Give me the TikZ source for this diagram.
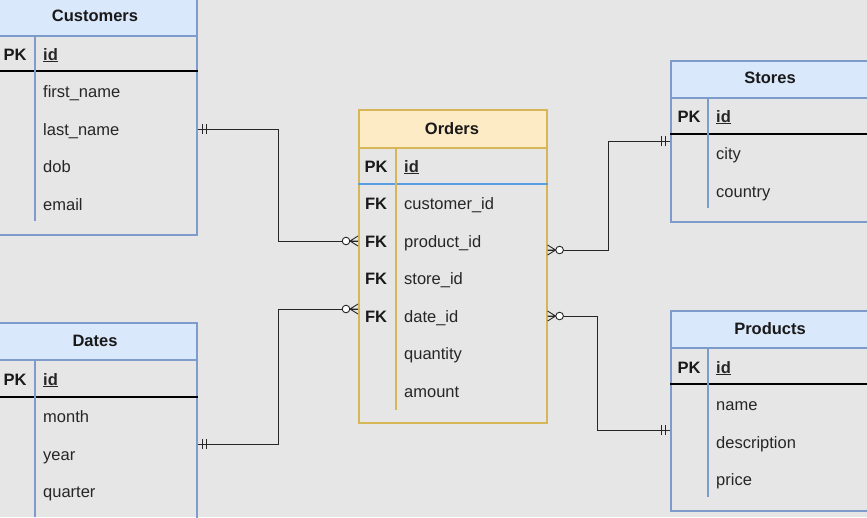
\documentclass[tikz,border=0pt]{standalone}
\usepackage{fontspec}
\setmainfont{Liberation Sans}
\usetikzlibrary{positioning}
\definecolor{bgray}{HTML}{E6E6E6}
\definecolor{tblue}{HTML}{7E9CCB}
\definecolor{hblue}{HTML}{DAE8FC}
\definecolor{tgold}{HTML}{D6B656}
\definecolor{hgold}{HTML}{FDEBC6}
\definecolor{kblue}{HTML}{5B9BE0}
\tikzset{
tbl/.style={draw=tblue,line width=1.6pt,anchor=north west,inner sep=0},
thead/.style={tbl,fill=hblue},
otbl/.style={tbl,draw=tgold},
ohead/.style={otbl,fill=hgold},
title/.style={font=\fontsize{16.5}{18}\selectfont\bfseries,text=black!90},
key/.style={font=\fontsize{16.5}{18}\selectfont\bfseries,text=black!90,anchor=base,yshift=-6pt},
field/.style={anchor=base west,inner xsep=8pt,yshift=-6pt,font=\fontsize{16.5}{18}\selectfont,text=black!85},
link/.style={draw=black!85,line width=0.9pt},
pics/zeromany/.style={code={
  \draw[link] (0,-5) -- (8,0) -- (0,5) (0,0) -- (8,0);
  \draw[link,fill=white] (12,0) circle (3.8pt);}},
pics/onlyone/.style={code={
  \draw[link] (5,-5) -- (5,5) (9,-5) -- (9,5);}},
}
\begin{document}
\begin{tikzpicture}[x=1pt,y=-1pt]
\fill[bgray] (0,0) rectangle (867,517);
\useasboundingbox (0,0) rectangle (867,517);
%%%%% Customers
\node[thead,minimum width=206pt,minimum height=40pt] (custh) at (-10,-5) {};
\node[tbl,minimum width=206pt,minimum height=199pt] (custb) at (-10,35) {};
\node[title] (custt) at (95,16) {Customers};
\draw[black,line width=1.6pt] (custb.west |- 0,71) -- (custb.east |- 0,71);
\draw[tblue,line width=1.6pt] (35,35) -- (35,221);
\node[key] (custpk) at (15,54) {PK};
\node[field] (custid) at (35,54) {\underline{\textbf{id}}};
\foreach \f [count=\i] in {first\_name,last\_name,dob,email}
  \node[field] (cust\i) at (35,54+37.5*\i) {\f};
%%%%% Dates
\node[thead,minimum width=206pt,minimum height=37pt] (dateh) at (-10,322) {};
\node[tbl,minimum width=206pt,minimum height=200pt] (dateb) at (-10,359) {};
\node[title] (datet) at (95,341) {Dates};
\draw[black,line width=1.6pt] (dateb.west |- 0,397) -- (dateb.east |- 0,397);
\draw[tblue,line width=1.6pt] (35,359) -- (35,517);
\node[key] (datepk) at (15,379) {PK};
\node[field] (dateid) at (35,379) {\underline{\textbf{id}}};
\foreach \f [count=\i] in {month,year,quarter}
  \node[field] (date\i) at (35,379+37.5*\i) {\f};
%%%%% Orders
\node[ohead,minimum width=188pt,minimum height=38pt] (ordh) at (358,109) {};
\node[otbl,minimum width=188pt,minimum height=275pt] (ordb) at (358,147) {};
\node[title] (ordt) at (452,129) {Orders};
\draw[kblue,line width=1.3pt] (ordb.west |- 0,184) -- (ordb.east |- 0,184);
\draw[tgold,line width=1.6pt] (396,147) -- (396,410);
\node[key] (ordpk) at (376,166) {PK};
\node[field] (ordid) at (396,166) {\underline{\textbf{id}}};
\foreach \f [count=\i] in {customer\_id,product\_id,store\_id,date\_id,quantity,amount}
  \node[field] (ord\i) at (396,166+37.5*\i) {\f};
\foreach \i in {1,...,4}
  \node[key] (ordfk\i) at (376,166+37.5*\i) {FK};
%%%%% Stores
\node[thead,minimum width=210pt,minimum height=37pt] (storh) at (670,60) {};
\node[tbl,minimum width=210pt,minimum height=124pt] (storb) at (670,97) {};
\node[title] (stort) at (770,78) {Stores};
\draw[black,line width=1.6pt] (storb.west |- 0,134) -- (storb.east |- 0,134);
\draw[tblue,line width=1.6pt] (708,97) -- (708,208);
\node[key] (storpk) at (689,116) {PK};
\node[field] (storid) at (708,116) {\underline{\textbf{id}}};
\foreach \f [count=\i] in {city,country}
  \node[field] (stor\i) at (708,116+37.5*\i) {\f};
%%%%% Products
\node[thead,minimum width=210pt,minimum height=37pt] (prodh) at (670,310) {};
\node[tbl,minimum width=210pt,minimum height=163pt] (prodb) at (670,347) {};
\node[title] (prodt) at (770,329) {Products};
\draw[black,line width=1.6pt] (prodb.west |- 0,384) -- (prodb.east |- 0,384);
\draw[tblue,line width=1.6pt] (708,347) -- (708,497);
\node[key] (prodpk) at (689,367) {PK};
\node[field] (prodid) at (708,367) {\underline{\textbf{id}}};
\foreach \f [count=\i] in {name,description,price}
  \node[field] (prod\i) at (708,367+37.5*\i) {\f};
%%%%% relations
\coordinate (c1) at (custb.east |- 0,129);
\coordinate (o1) at (ordb.west |- 0,241);
\coordinate (d1) at (dateb.east |- 0,444);
\coordinate (o2) at (ordb.west |- 0,309);
\coordinate (o3) at (ordb.east |- 0,250);
\coordinate (s1) at (storb.west |- 0,141);
\coordinate (o4) at (ordb.east |- 0,316);
\coordinate (p1) at (prodb.west |- 0,430);
%
\draw[link] (c1) -- (278,129) |- (o1);
\draw[link] (d1) -- (278,444) |- (o2);
\draw[link] (o3) -- (608,250) |- (s1);
\draw[link] (o4) -- (597,316) |- (p1);
%
\pic at (c1) {onlyone};
\pic at (d1) {onlyone};
\pic[rotate=180] at (s1) {onlyone};
\pic[rotate=180] at (p1) {onlyone};
\pic[rotate=180] at (o1) {zeromany};
\pic[rotate=180] at (o2) {zeromany};
\pic at (o3) {zeromany};
\pic at (o4) {zeromany};
\end{tikzpicture}
\end{document}
